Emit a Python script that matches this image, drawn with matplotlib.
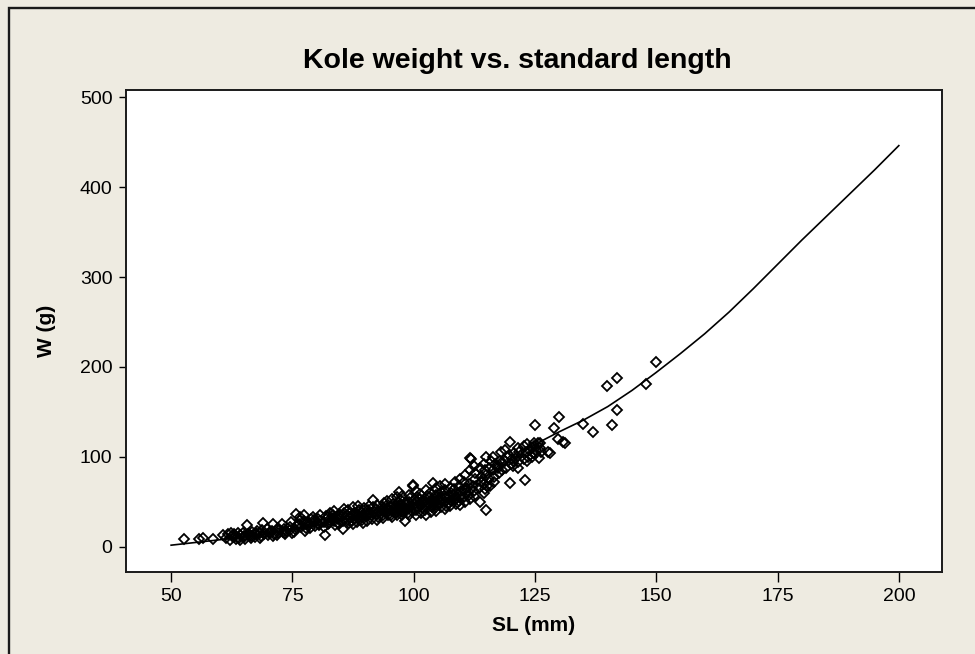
import matplotlib
matplotlib.use('Agg')
import matplotlib.pyplot as plt
from matplotlib.patches import Rectangle

# standard length (mm) and weight (g) of each fish
length = [
    52.7, 55.8, 56.5, 58.7, 60.6, 61.4, 61.7, 62.4, 62.2, 62.6,
    63.0, 63.3, 62.9, 64.0, 64.2, 63.8, 64.1, 65.0, 65.3, 64.8,
    65.1, 65.7, 65.9, 66.5, 66.3, 66.7, 66.4, 67.5, 67.2, 67.7,
    67.4, 68.5, 68.3, 68.7, 68.4, 69.0, 69.2, 70.0, 70.3, 69.8,
    70.1, 70.9, 71.2, 70.8, 71.1, 72.0, 72.3, 71.8, 72.1, 72.8,
    73.0, 73.5, 73.3, 73.7, 73.4, 74.8, 74.6, 75.0, 74.5, 75.8,
    75.6, 76.0, 75.4, 76.6, 76.4, 76.8, 76.5, 77.5, 77.3, 77.7,
    77.4, 77.6, 78.6, 78.4, 78.8, 78.5, 79.5, 79.3, 79.7, 79.4,
    80.5, 80.3, 80.7, 80.4, 80.6, 81.7, 81.5, 81.9, 81.6, 82.5,
    82.3, 82.7, 82.4, 82.6, 83.5, 83.3, 83.7, 83.4, 83.6, 84.5,
    84.3, 84.7, 84.4, 84.6, 85.5, 85.3, 85.7, 85.4, 85.6, 85.5,
    86.5, 86.3, 86.7, 86.4, 86.6, 87.5, 87.3, 87.7, 87.4, 87.6,
    87.5, 88.5, 88.3, 88.7, 88.4, 88.6, 88.5, 89.5, 89.3, 89.7,
    89.4, 89.6, 89.5, 90.5, 90.3, 90.7, 90.4, 90.6, 90.5, 91.6,
    91.4, 91.8, 91.5, 91.7, 91.6, 92.5, 92.3, 92.7, 92.4, 92.6,
    92.5, 93.7, 93.5, 93.9, 93.6, 93.8, 93.7, 94.5, 94.3, 94.7,
    94.4, 94.6, 94.5, 95.5, 95.3, 95.7, 95.4, 95.6, 95.5, 96.5,
    96.3, 96.7, 96.4, 96.6, 96.5, 96.5, 97.0, 97.2, 96.9, 97.5,
    97.3, 97.7, 97.4, 97.6, 97.5, 98.2, 98.0, 98.4, 98.1, 98.3,
    99.0, 98.8, 99.2, 98.9, 99.1, 99.0, 99.0, 99.8, 99.6, 100.0,
    99.7, 99.9, 100.5, 100.3, 100.7, 100.4, 100.6, 100.5, 100.5, 101.5,
    101.3, 101.7, 101.4, 101.6, 101.5, 102.5, 102.3, 102.7, 102.4, 102.6,
    102.5, 102.5, 103.5, 103.3, 103.7, 103.4, 103.6, 103.5, 104.0, 104.2,
    104.5, 104.3, 104.7, 104.4, 104.6, 104.5, 104.5, 105.5, 105.3, 105.7,
    105.4, 105.6, 105.5, 106.5, 106.3, 106.7, 106.4, 106.6, 106.5, 106.5,
    107.5, 107.3, 107.7, 107.4, 107.6, 107.5, 108.5, 108.3, 108.7, 108.4,
    108.6, 108.5, 109.5, 109.3, 109.7, 109.4, 109.6, 109.5, 110.5, 110.3,
    110.7, 110.4, 110.6, 110.5, 110.5, 111.6, 111.4, 111.8, 111.5, 111.7,
    111.6, 111.8, 112.5, 112.3, 112.7, 112.4, 112.6, 112.5, 113.7, 113.5,
    113.9, 113.6, 113.8, 114.5, 114.3, 114.7, 114.4, 114.6, 114.5, 115.0,
    115.0, 115.2, 114.9, 115.7, 115.5, 115.9, 115.6, 116.5, 116.3, 116.7,
    116.4, 116.6, 117.5, 117.3, 117.7, 117.4, 118.0, 118.2, 117.9, 119.0,
    118.8, 119.2, 118.9, 119.8, 119.8, 120.0, 119.6, 120.5, 120.3, 120.7,
    120.4, 121.5, 121.3, 121.7, 121.4, 121.6, 122.9, 122.7, 123.1, 122.8,
    123.5, 123.3, 123.7, 123.4, 124.5, 124.3, 124.7, 124.4, 125.0, 125.2,
    124.9, 125.1, 125.8, 125.6, 126.0, 126.1, 126.3, 127.7, 128.1, 128.9,
    130.0, 129.8, 130.8, 131.2, 134.8, 137.0, 139.8, 140.8, 142.0, 142.0,
    147.9, 150.0,
]
weight = [
    9, 9, 10, 9, 13, 10, 14, 16, 8, 12,
    11, 9, 14, 10, 13, 15, 8, 12, 9, 16,
    11, 24, 14, 10, 13, 17, 12, 14, 11, 18,
    15, 12, 16, 19, 10, 27, 14, 13, 17, 20,
    15, 25, 14, 18, 12, 16, 19, 13, 21, 25,
    17, 15, 20, 18, 14, 28, 19, 16, 22, 37,
    20, 24, 17, 30, 26, 22, 33, 25, 29, 21,
    35, 18, 21, 27, 31, 24, 28, 33, 23, 30,
    26, 31, 36, 24, 29, 13, 28, 34, 22, 30,
    25, 38, 33, 27, 29, 35, 24, 32, 40, 31,
    27, 37, 34, 25, 20, 33, 38, 29, 42, 35,
    30, 36, 27, 41, 33, 34, 29, 38, 44, 31,
    25, 32, 37, 41, 28, 35, 46, 36, 30, 43,
    39, 33, 27, 38, 34, 45, 29, 41, 36, 52,
    35, 40, 31, 44, 38, 37, 42, 33, 47, 39,
    30, 32, 44, 40, 36, 49, 42, 38, 46, 35,
    51, 41, 43, 40, 36, 48, 44, 53, 33, 42,
    38, 50, 46, 55, 35, 44, 61, 45, 41, 39,
    47, 43, 52, 36, 57, 29, 44, 50, 40, 48,
    46, 42, 54, 38, 58, 50, 35, 68, 45, 52,
    40, 69, 44, 48, 56, 36, 51, 62, 41, 47,
    53, 43, 59, 38, 50, 45, 51, 57, 41, 63,
    48, 35, 49, 55, 44, 60, 52, 39, 71, 50,
    47, 53, 58, 43, 65, 50, 40, 52, 48, 61,
    56, 44, 68, 50, 57, 46, 63, 54, 42, 70,
    55, 49, 60, 66, 52, 45, 53, 58, 48, 64,
    72, 56, 57, 51, 62, 68, 47, 75, 60, 55,
    66, 72, 50, 80, 63, 99, 58, 64, 70, 85,
    53, 98, 62, 68, 75, 57, 82, 90, 50, 65,
    72, 88, 78, 70, 76, 85, 92, 64, 60, 41,
    100, 68, 80, 68, 88, 95, 75, 78, 85, 92,
    100, 72, 82, 90, 96, 88, 105, 86, 93, 88,
    95, 100, 108, 117, 71, 92, 102, 90, 98, 104,
    95, 94, 100, 106, 110, 88, 74, 98, 105, 112,
    100, 96, 108, 114, 104, 110, 116, 100, 136, 108,
    112, 103, 99, 115, 110, 115, 106, 106, 104, 132,
    144, 120, 117, 115, 137, 128, 179, 135, 188, 152,
    181, 205,
]

# fitted curve, read at 5 mm steps
fit_sl = [50, 55, 60, 65, 70, 75, 80, 85, 90, 95, 100, 105, 110, 115, 120,
          125, 130, 135, 140, 145, 150, 155, 160, 165, 170, 175, 180, 185,
          190, 195, 200]
fit_w = [2, 5, 8, 11, 15, 19, 24, 30, 36, 42, 49, 57, 66, 79, 96,
         114, 128, 141, 156, 174, 194, 215, 237, 261, 287, 314, 341, 367,
         393, 419, 446]

xticks = [50, 75, 100, 125, 150, 175, 200]
yticks = [0, 100, 200, 300, 400, 500]

plt.rcParams['font.family'] = ['Liberation Sans', 'DejaVu Sans']

W, H = 975, 654
fig = plt.figure(figsize=(W / 100, H / 100), dpi=100)
fig.patch.set_facecolor('#EEEBE1')

# outer frame (right and bottom edges fall off the picture)
fig.patches.append(Rectangle((9 / W, -0.2), 1.5, 1.2 - 8 / H,
                             transform=fig.transFigure, fill=False,
                             edgecolor='#1a1a1a', linewidth=1.7))

ax = fig.add_axes([126 / W, 1 - 572 / H, (942 - 126) / W, (572 - 90) / H])
ax.set_facecolor('white')

ax.plot(length, weight, linestyle='none', marker='D', markersize=5.3,
        markerfacecolor='none', markeredgecolor='black', markeredgewidth=1.3)
ax.plot(fit_sl, fit_w, color='black', linewidth=1.2)

ax.set_xlim(40.7, 208.9)
ax.set_ylim(-27.8, 507.8)
ax.set_xticks(xticks)
ax.set_yticks(yticks)
ax.tick_params(axis='x', direction='out', length=7, width=1, pad=4.5,
               labelsize=14)
ax.tick_params(axis='y', direction='out', length=4.8, width=1, pad=5,
               labelsize=14)
for s in ax.spines.values():
    s.set_linewidth(1.4)
    s.set_color('#1a1a1a')

fig.text(517 / W, 1 - 68 / H, 'Kole weight vs. standard length',
         ha='center', va='baseline', fontsize=20.5, fontweight='bold')
fig.text(534 / W, 1 - 631 / H, 'SL (mm)', ha='center', va='baseline',
         fontsize=15, fontweight='bold')
fig.text(47 / W, 1 - 331 / H, 'W (g)', ha='center', va='center',
         rotation=90, fontsize=15, fontweight='bold')

fig.savefig('out.png', dpi=100, facecolor=fig.get_facecolor())
